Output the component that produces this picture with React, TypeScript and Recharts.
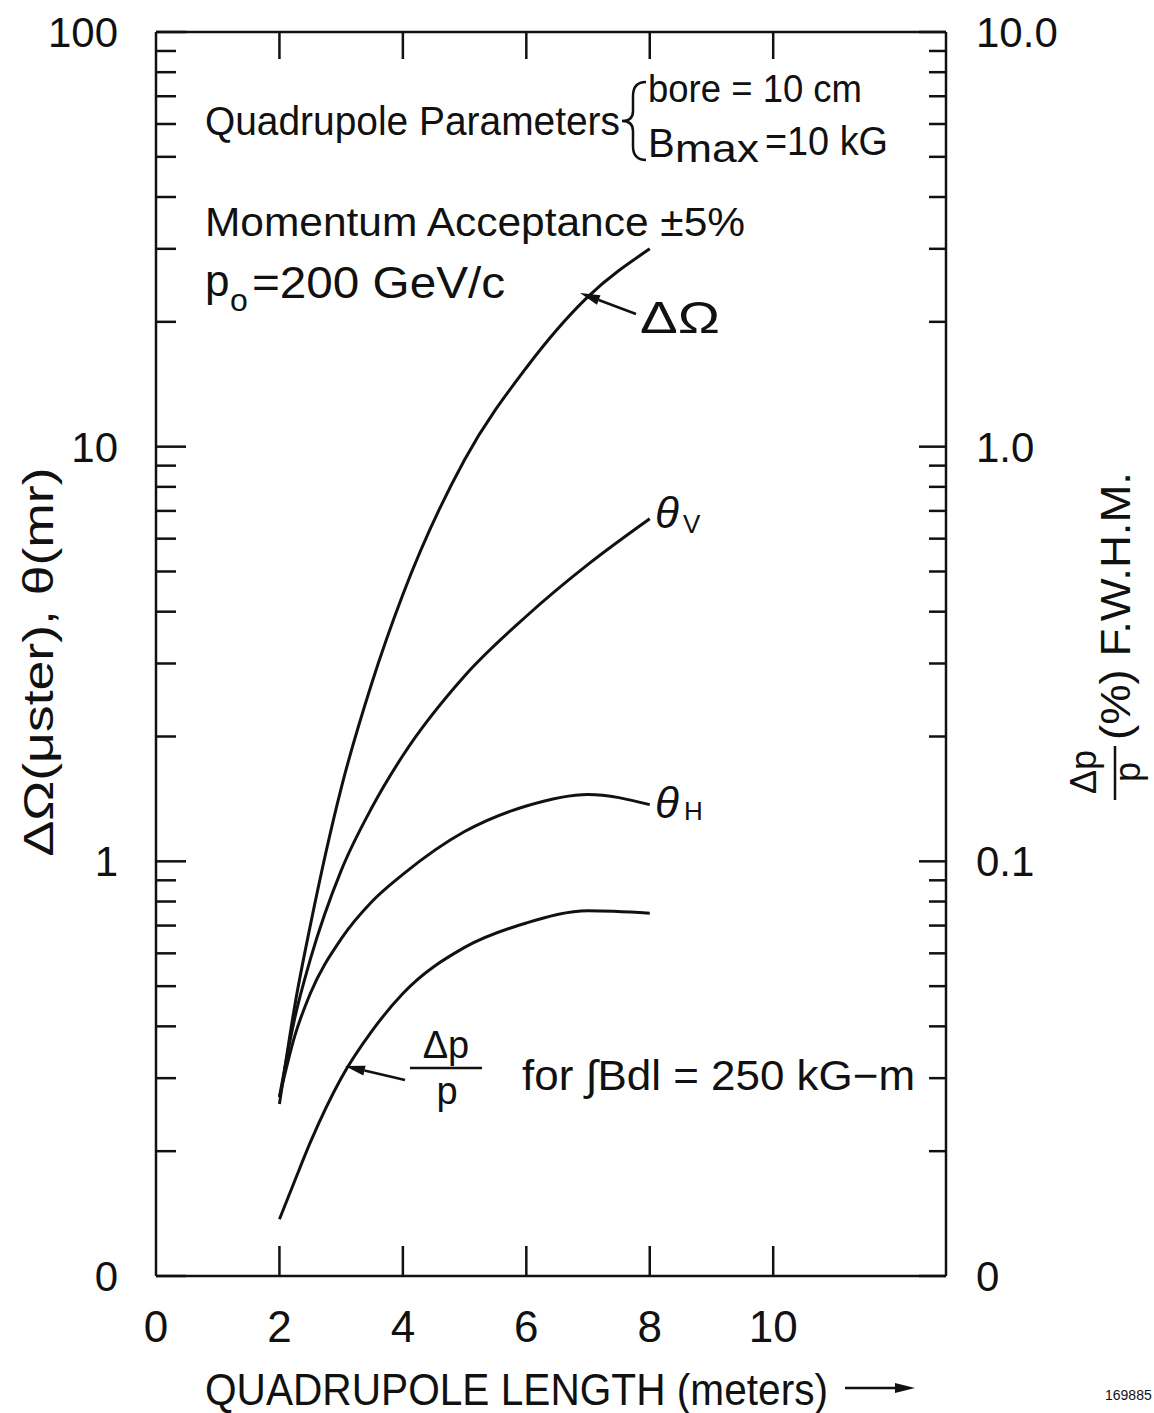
import React from "react";
import { LineChart, Line, XAxis, YAxis } from "recharts";

document.body.style.margin = "0";

// quadrupole length (m) and read-off values
const lengths = [2, 2.25, 2.5, 3, 3.5, 4, 5, 6, 7, 8];
const solidAngle = [0.26, 0.45, 0.7, 1.5, 2.7, 4.4, 9.3, 15.5, 23, 30];
const thetaV = [0.27, 0.42, 0.58, 0.95, 1.35, 1.8, 2.8, 3.9, 5.2, 6.7];
const thetaH = [0.27, 0.38, 0.48, 0.65, 0.8, 0.93, 1.18, 1.36, 1.45, 1.37];
// delta p / p in %, read on the right axis
const momentumSpread = [0.0137, 0.017, 0.021, 0.03, 0.039, 0.048, 0.062, 0.071, 0.076, 0.075];

const xTicks = [0, 2, 4, 6, 8, 10];
const topTicks = [2, 4, 6, 8, 10];
const leftMajor = [0.1, 1, 10, 100];
const leftLabels = ["0", "1", "10", "100"];
const rightMajor = [0.01, 0.1, 1, 10];
const rightLabels = ["0", "0.1", "1.0", "10.0"];
const minorSteps = [1, 2, 3, 4, 5, 6, 7, 8, 9];

const decadeTicks = (major: number[]) => [
  ...major.slice(0, -1).flatMap((d) => minorSteps.map((k) => k * d)),
  major[major.length - 1],
];

const rows = lengths.map((x, i) => ({
  x,
  dOmega: solidAngle[i],
  thetaV: thetaV[i],
  thetaH: thetaH[i],
  dpp: momentumSpread[i],
}));

const font = "'Liberation Sans', Arial, sans-serif";
const ink = "#111";

const majorIndex = (major: number[], v: number) =>
  major.findIndex((m) => Math.abs(m - v) / m < 1e-6);

function LeftTick(props: any) {
  const { x, y, payload } = props;
  const i = majorIndex(leftMajor, payload.value);
  const len = i >= 0 ? 30 : 20;
  return (
    <g>
      <line x1={x} y1={y} x2={x + len} y2={y} stroke={ink} strokeWidth={2.5} />
      {i >= 0 && (
        <text x={x - 38} y={y + 15} textAnchor="end" fontSize={42} fontFamily={font} fill={ink}>
          {leftLabels[i]}
        </text>
      )}
    </g>
  );
}

function RightTick(props: any) {
  const { x, y, payload } = props;
  const i = majorIndex(rightMajor, payload.value);
  const len = i >= 0 ? 27 : 17;
  return (
    <g>
      <line x1={x} y1={y} x2={x - len} y2={y} stroke={ink} strokeWidth={2.5} />
      {i >= 0 && (
        <text x={x + 30} y={y + 15} textAnchor="start" fontSize={42} fontFamily={font} fill={ink}>
          {rightLabels[i]}
        </text>
      )}
    </g>
  );
}

function BottomTick(props: any) {
  const { x, y, payload } = props;
  const v = payload.value;
  return (
    <g>
      {v > 0 && <line x1={x} y1={y} x2={x} y2={y - 30} stroke={ink} strokeWidth={2.5} />}
      <text x={x} y={y + 66} textAnchor="middle" fontSize={44} fontFamily={font} fill={ink}>
        {v}
      </text>
    </g>
  );
}

function TopTick(props: any) {
  const { x, y } = props;
  return <line x1={x} y1={y} x2={x} y2={y + 27} stroke={ink} strokeWidth={2.5} />;
}

function Arrow({ x1, y1, x2, y2 }: { x1: number; y1: number; x2: number; y2: number }) {
  const dx = x2 - x1;
  const dy = y2 - y1;
  const l = Math.hypot(dx, dy);
  const ux = dx / l;
  const uy = dy / l;
  const bx = x2 - ux * 20;
  const by = y2 - uy * 20;
  const px = -uy * 5;
  const py = ux * 5;
  return (
    <g>
      <line x1={x1} y1={y1} x2={bx} y2={by} stroke={ink} strokeWidth={2.5} />
      <polygon points={`${x2},${y2} ${bx + px},${by + py} ${bx - px},${by - py}`} fill={ink} />
    </g>
  );
}

function Notes() {
  const t = { fontFamily: font, fill: ink } as const;
  return (
    <svg
      width={1154}
      height={1413}
      style={{ position: "absolute", left: 0, top: 0, pointerEvents: "none" }}
    >
      <text {...t} x={205} y={135} fontSize={40} textLength={415} lengthAdjust="spacingAndGlyphs">
        Quadrupole Parameters
      </text>
      <path
        d="M646 82 Q633 82 633 96 L633 111 Q633 121 622 121 Q633 121 633 131 L633 146 Q633 160 646 160"
        fill="none"
        stroke={ink}
        strokeWidth={2.5}
      />
      <text {...t} x={648} y={102} fontSize={38} textLength={214} lengthAdjust="spacingAndGlyphs">
        bore = 10 cm
      </text>
      <text {...t} x={648} y={157} fontSize={40}>B</text>
      <text {...t} x={675} y={162} fontSize={38} textLength={84} lengthAdjust="spacingAndGlyphs">
        max
      </text>
      <text {...t} x={765} y={155} fontSize={40} textLength={123} lengthAdjust="spacingAndGlyphs">
        =10 kG
      </text>

      <text {...t} x={205} y={236} fontSize={40} textLength={540} lengthAdjust="spacingAndGlyphs">
        Momentum Acceptance ±5%
      </text>
      <text {...t} x={205} y={296} fontSize={44}>p</text>
      <text {...t} x={230} y={311} fontSize={32}>o</text>
      <text {...t} x={252} y={298} fontSize={44} textLength={253} lengthAdjust="spacingAndGlyphs">
        =200 GeV/c
      </text>

      <text {...t} x={640} y={333} fontSize={44} textLength={80} lengthAdjust="spacingAndGlyphs">
        ΔΩ
      </text>
      <Arrow x1={636} y1={314} x2={580} y2={293} />

      <text {...t} x={655} y={528} fontSize={44} fontStyle="italic">θ</text>
      <text {...t} x={683} y={533} fontSize={26}>V</text>
      <text {...t} x={655} y={818} fontSize={44} fontStyle="italic">θ</text>
      <text {...t} x={684} y={820} fontSize={26}>H</text>

      <text {...t} x={446} y={1058} fontSize={38} textAnchor="middle">Δp</text>
      <line x1={410} y1={1068} x2={482} y2={1068} stroke={ink} strokeWidth={2.5} />
      <text {...t} x={447} y={1104} fontSize={38} textAnchor="middle">p</text>
      <Arrow x1={405} y1={1080} x2={345} y2={1066} />

      <text {...t} x={522} y={1090} fontSize={42} textLength={393} lengthAdjust="spacingAndGlyphs">
        for ∫Bdl = 250 kG−m
      </text>

      <text
        {...t}
        transform="translate(40,662) rotate(-90)"
        x={0}
        y={13}
        textAnchor="middle"
        fontSize={42}
        textLength={389}
        lengthAdjust="spacingAndGlyphs"
      >
        ΔΩ(μster), θ(mr)
      </text>

      <g transform="translate(1110,636) rotate(-90)">
        <text {...t} x={-136} y={-14} fontSize={36} textAnchor="middle">Δp</text>
        <line x1={-164} y1={5} x2={-110} y2={5} stroke={ink} strokeWidth={2.5} />
        <text {...t} x={-136} y={30} fontSize={36} textAnchor="middle">p</text>
        <text {...t} x={-104} y={20} fontSize={42} textLength={268} lengthAdjust="spacingAndGlyphs">
          (%) F.W.H.M.
        </text>
      </g>

      <text {...t} x={205} y={1405} fontSize={44} textLength={623} lengthAdjust="spacingAndGlyphs">
        QUADRUPOLE LENGTH (meters)
      </text>
      <Arrow x1={845} y1={1388} x2={915} y2={1388} />

      <text {...t} x={1105} y={1400} fontSize={14}>169885</text>
    </svg>
  );
}

export default function App() {
  const axisLine = { stroke: ink, strokeWidth: 2.5 };
  return (
    <div style={{ position: "relative", width: 1154, height: 1413, background: "#fff" }}>
      <LineChart width={1154} height={1413} data={rows} margin={{ top: 2, right: 0, bottom: 0, left: 0 }}>
        <XAxis
          xAxisId="bottom"
          dataKey="x"
          type="number"
          domain={[0, 12.8]}
          allowDataOverflow
          ticks={xTicks}
          interval={0}
          height={137}
          tickSize={0}
          tickMargin={0}
          tickLine={false}
          axisLine={axisLine}
          tick={BottomTick}
        />
        <XAxis
          xAxisId="top"
          orientation="top"
          dataKey="x"
          type="number"
          domain={[0, 12.8]}
          allowDataOverflow
          ticks={topTicks}
          interval={0}
          height={30}
          tickSize={0}
          tickMargin={0}
          tickLine={false}
          axisLine={axisLine}
          tick={TopTick}
        />
        <YAxis
          yAxisId="left"
          type="number"
          scale="log"
          domain={[0.1, 100]}
          allowDataOverflow
          ticks={decadeTicks(leftMajor)}
          interval={0}
          width={156}
          tickSize={0}
          tickMargin={0}
          tickLine={false}
          axisLine={axisLine}
          tick={LeftTick}
        />
        <YAxis
          yAxisId="right"
          orientation="right"
          type="number"
          scale="log"
          domain={[0.01, 10]}
          allowDataOverflow
          ticks={decadeTicks(rightMajor)}
          interval={0}
          width={208}
          tickSize={0}
          tickMargin={0}
          tickLine={false}
          axisLine={axisLine}
          tick={RightTick}
        />
        <Line xAxisId="bottom" yAxisId="left" type="monotone" dataKey="dOmega" stroke={ink} strokeWidth={3} dot={false} isAnimationActive={false} />
        <Line xAxisId="bottom" yAxisId="left" type="monotone" dataKey="thetaV" stroke={ink} strokeWidth={3} dot={false} isAnimationActive={false} />
        <Line xAxisId="bottom" yAxisId="left" type="monotone" dataKey="thetaH" stroke={ink} strokeWidth={3} dot={false} isAnimationActive={false} />
        <Line xAxisId="bottom" yAxisId="right" type="monotone" dataKey="dpp" stroke={ink} strokeWidth={3} dot={false} isAnimationActive={false} />
      </LineChart>
      <Notes />
    </div>
  );
}
